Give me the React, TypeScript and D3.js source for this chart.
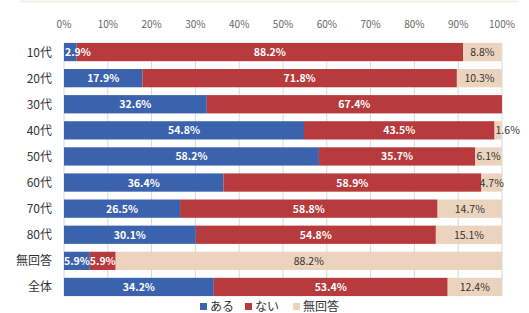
import React from "react";
import * as d3 from "d3";

const categories = ["10代", "20代", "30代", "40代", "50代", "60代", "70代", "80代", "無回答", "全体"];
const aru = [2.9, 17.9, 32.6, 54.8, 58.2, 36.4, 26.5, 30.1, 5.9, 34.2];
const nai = [88.2, 71.8, 67.4, 43.5, 35.7, 58.9, 58.8, 54.8, 5.9, 53.4];
const mukaito = [8.8, 10.3, 0, 1.6, 6.1, 4.7, 14.7, 15.1, 88.2, 12.4];
const ticks = [0, 10, 20, 30, 40, 50, 60, 70, 80, 90, 100];
const seriesNames = ["ある", "ない", "無回答"];
const colors = ["#3b63ad", "#b73a3d", "#ecd3bd"];
const textColors = ["#ffffff", "#ffffff", "#333333"];

const W = 529, H = 313;
const left = 64, right = 502;
const top = 39, rowH = 26.1;

export default function App() {
  const x = d3.scaleLinear().domain([0, 100]).range([left, right]);
  const y = d3.scaleBand<string>().domain(categories).range([top, top + rowH * categories.length]).paddingInner(0.3).paddingOuter(0.15);
  const series = [aru, nai, mukaito];
  const font = "'Noto Sans CJK JP', 'Noto Sans', sans-serif";
  return (
    <svg width={W} height={H} style={{ position: "absolute", left: 0, top: 0, background: "#fff" }}>
      <line x1={20} x2={W - 10} y1={1.5} y2={1.5} stroke="#eef3ea" strokeWidth={2} />
      {ticks.map((t) => (
        <g key={t}>
          <text x={x(t)} y={28} textAnchor="middle" fontSize={10} fill="#666" fontFamily={font}>{t}%</text>
          <line x1={x(t)} x2={x(t)} y1={y(categories[0])!} y2={y(categories[categories.length - 1])! + y.bandwidth()} stroke="#d8d8d8" strokeWidth={1} />
        </g>
      ))}
      {categories.map((c, i) => {
        let acc = 0;
        const yy = y(c)!;
        return (
          <g key={c}>
            <text x={52} y={yy + y.bandwidth() / 2 + 4.5} textAnchor="end" fontSize={12} fill="#333" fontFamily={font}>{c}</text>
            {series.map((s, k) => {
              const v = s[i];
              const x0 = x(acc);
              acc += v;
              const x1 = Math.min(x(acc), right);
              if (v <= 0) return null;
              return <rect key={k} x={x0} y={yy} width={Math.max(0, x1 - x0)} height={y.bandwidth()} fill={colors[k]} />;
            })}
            {(() => {
              let a = 0;
              return series.map((s, k) => {
                const v = s[i];
                const x0 = x(a);
                a += v;
                const x1 = Math.min(x(a), right);
                if (v <= 0) return null;
                const narrow = x1 - x0 < 16;
                const cx = narrow ? x0 + 1 : (x0 + x1) / 2;
                return (
                  <text key={"t" + k} x={cx} y={yy + y.bandwidth() / 2 + 4} textAnchor={narrow ? "start" : "middle"} fontSize={10.5} fill={textColors[k]} fontFamily={font} fontWeight={k < 2 ? 600 : 400}>
                    {v.toFixed(1)}%
                  </text>
                );
              });
            })()}
          </g>
        );
      })}
      {seriesNames.map((n, k) => {
        const lx = [200, 245, 293][k];
        return (
          <g key={n}>
            <rect x={lx} y={303} width={7} height={7} fill={colors[k]} />
            <text x={lx + 10} y={311} fontSize={12} fill="#333" fontFamily={font}>{n}</text>
          </g>
        );
      })}
    </svg>
  );
}
